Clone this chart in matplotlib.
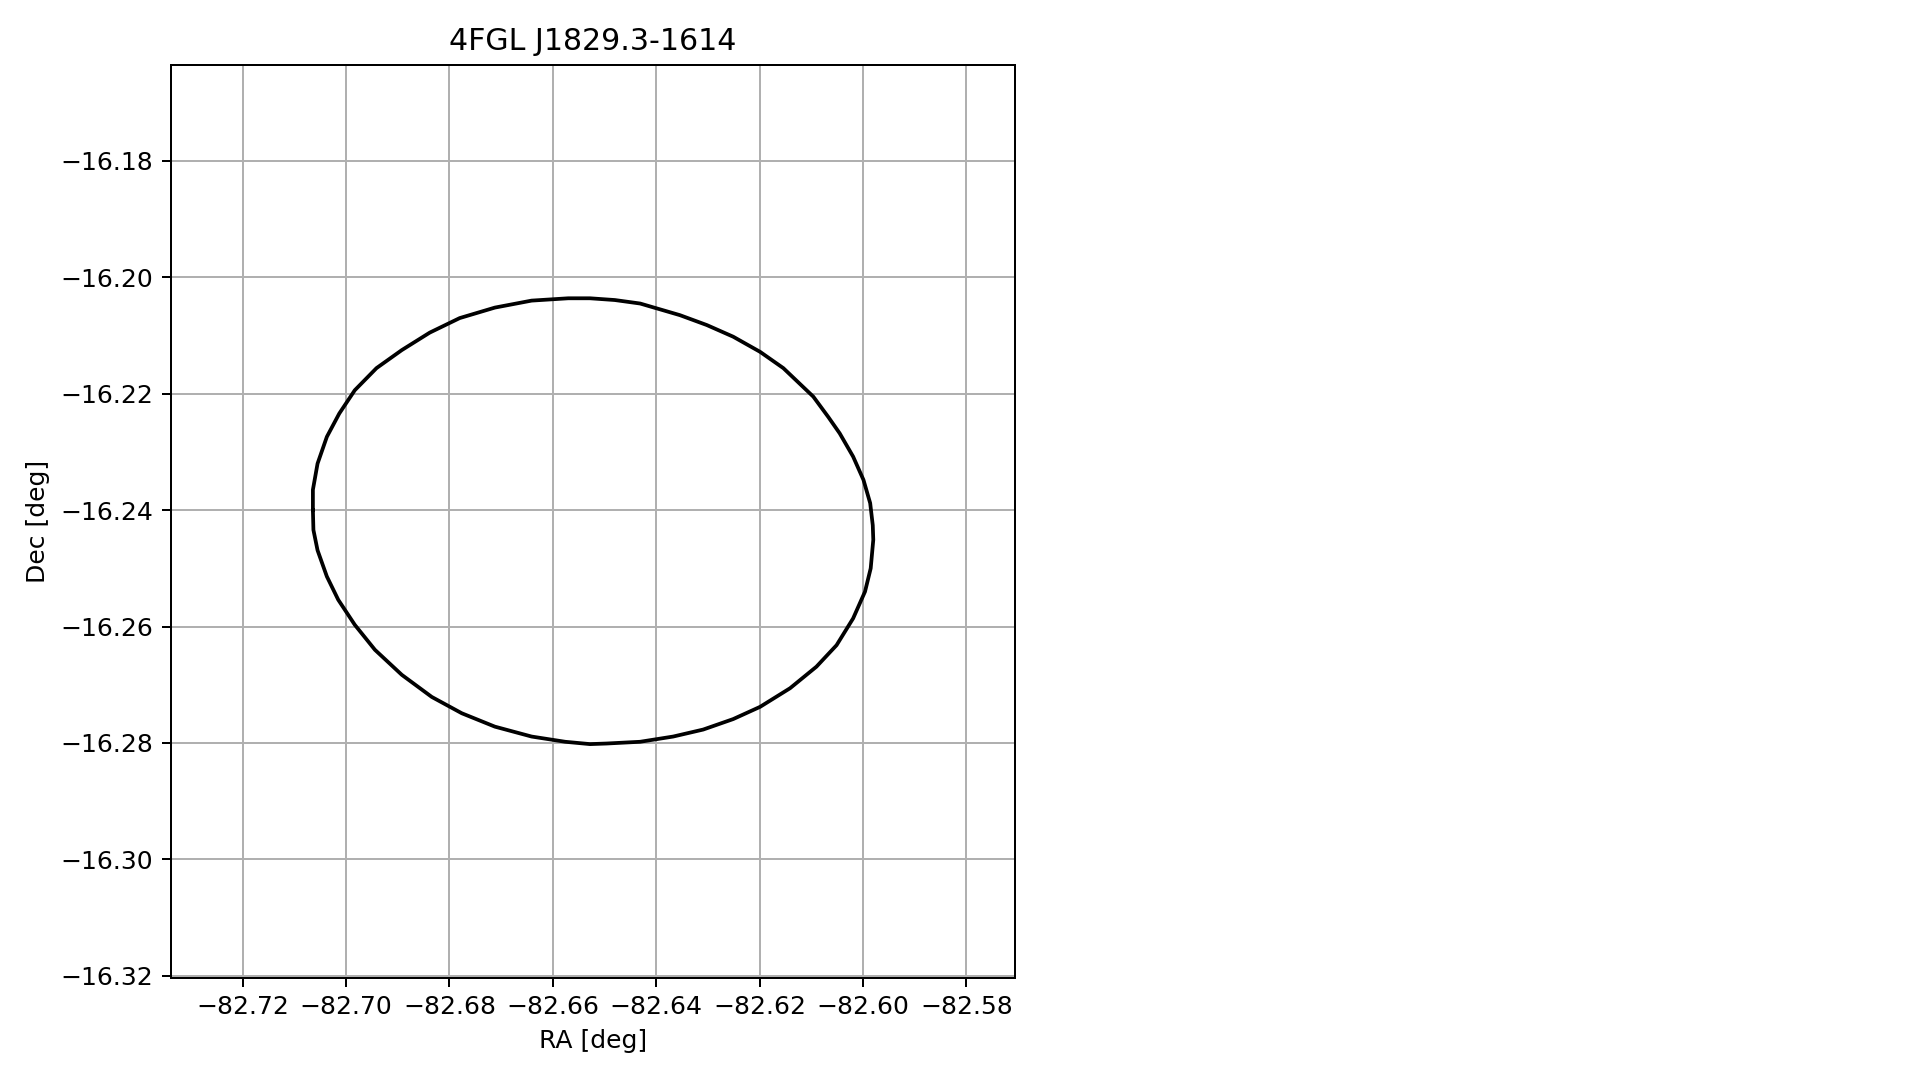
import numpy as np
import matplotlib
matplotlib.use("Agg")
import matplotlib.pyplot as plt
from matplotlib.ticker import MultipleLocator

# error ellipse outline of the source (RA, Dec in deg)
ra = [-82.7064, -82.7064, -82.7055, -82.7037, -82.7013, -82.6983, -82.6941,
      -82.6892, -82.6838, -82.6780, -82.6712, -82.6641, -82.6570, -82.6528,
      -82.6480, -82.6431, -82.6354, -82.6302, -82.6251, -82.6199, -82.6154,
      -82.6096, -82.6067, -82.6045, -82.6019, -82.5999, -82.5986, -82.5981,
      -82.5980, -82.5985, -82.5996, -82.6019, -82.6051, -82.6090, -82.6141,
      -82.6199, -82.6251, -82.6309, -82.6367, -82.6431, -82.6496, -82.6528,
      -82.6576, -82.6641, -82.6712, -82.6776, -82.6834, -82.6892, -82.6944,
      -82.6983, -82.7015, -82.7037, -82.7055, -82.7063, -82.7064]
dec = [-16.2400, -16.2365, -16.2320, -16.2274, -16.2234, -16.2194, -16.2156,
       -16.2125, -16.2095, -16.2070, -16.2052, -16.2040, -16.2036, -16.2036,
       -16.2039, -16.2045, -16.2065, -16.2082, -16.2102, -16.2128, -16.2156,
       -16.2205, -16.2240, -16.2268, -16.2308, -16.2348, -16.2388, -16.2426,
       -16.2451, -16.2500, -16.2540, -16.2586, -16.2632, -16.2669, -16.2706,
       -16.2738, -16.2759, -16.2777, -16.2789, -16.2798, -16.2801, -16.2802,
       -16.2798, -16.2789, -16.2772, -16.2749, -16.2721, -16.2683, -16.2640,
       -16.2597, -16.2554, -16.2514, -16.2469, -16.2434, -16.2400]

source_name = "4FGL J1829.3-1614"

DPI = 180
fig = plt.figure(figsize=(1919 / DPI, 1080 / DPI), dpi=DPI)
ax = fig.add_axes([0.0890, 0.0947, 0.4401, 0.8451])

ax.plot(ra, dec, color="black", lw=1.5)

ax.set_xlim(-82.73389, -82.57052)
ax.set_ylim(-16.32034, -16.16352)
ax.xaxis.set_major_locator(MultipleLocator(0.02))
ax.yaxis.set_major_locator(MultipleLocator(0.02))
ax.grid(True)
ax.set_axisbelow(True)

ax.set_xlabel("RA [deg]")
ax.set_ylabel("Dec [deg]")
ax.set_title(source_name)

fig.savefig("out.png", dpi=DPI)
